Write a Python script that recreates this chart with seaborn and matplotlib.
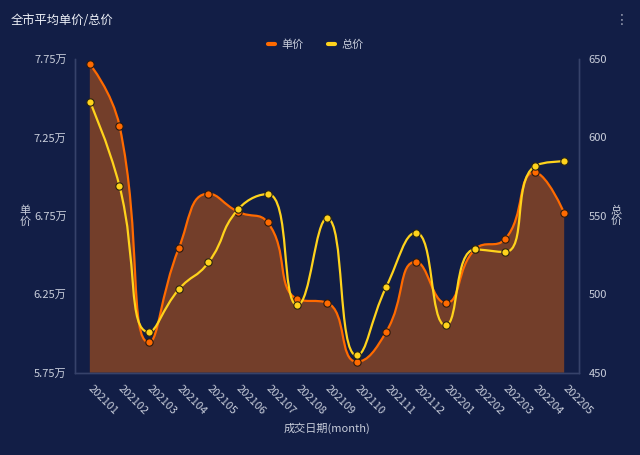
import numpy as np
import pandas as pd
import seaborn as sns
import matplotlib
matplotlib.use("Agg")
import matplotlib.pyplot as plt
from matplotlib.path import Path
from matplotlib.patches import PathPatch
from matplotlib.lines import Line2D
from matplotlib.ticker import FuncFormatter

months = ["202101", "202102", "202103", "202104", "202105", "202106", "202107", "202108", "202109",
          "202110", "202111", "202112", "202201", "202202", "202203", "202204", "202205"]
unit_price = [77180, 73250, 59430, 65430, 68910, 67760, 67080, 62190, 61960,
              58200, 60110, 64570, 61940, 65380, 66000, 70270, 67680]
total_price = [622.8, 569.0, 475.9, 503.1, 520.3, 554.1, 563.9, 493.1, 548.4,
               461.0, 504.8, 539.2, 480.2, 528.6, 526.9, 581.6, 584.8]
left_ticks = [57500, 62500, 67500, 72500, 77500]
right_ticks = [450, 500, 550, 600, 650]

BG = "#121E46"
FILL = "#733E2A"
ORANGE = "#FF6A00"
YELLOW = "#FFD31C"
AXIS = "#36426A"
TXT = "#C9CEDB"

sns.set_theme(style="dark")
plt.rcParams["font.family"] = ["Noto Sans CJK SC", "DejaVu Sans"]
plt.rcParams["axes.unicode_minus"] = False

fig = plt.figure(figsize=(6.4, 4.55), dpi=100, facecolor=BG)
ax = fig.add_axes([75 / 640, 1 - 372.7 / 455, 504 / 640, (372.7 - 59) / 455])
ax.set_facecolor(BG)
ax2 = ax.twinx()
ax2.patch.set_visible(False)

x = np.arange(len(months))
ax.set_xlim(-0.5, len(months) - 0.5)
ax.set_ylim(left_ticks[0], left_ticks[-1])
ax2.set_ylim(right_ticks[0], right_ticks[-1])


def smooth_path(axis, xs, ys, smooth=0.5):
    tr = axis.transData
    pts = tr.transform(np.column_stack([xs, ys]))
    n = len(pts)
    verts = [tuple(pts[0])]
    codes = [Path.MOVETO]
    cp0 = pts[0].copy()
    for i in range(1, n):
        px, py = pts[i - 1]
        xx, yy = pts[i]
        if i == n - 1:
            cp1 = np.array([xx, yy])
            nxt = None
        else:
            nx_, ny_ = pts[i + 1]
            vx, vy = nx_ - px, ny_ - py
            lp = np.hypot(xx - px, yy - py)
            ln = np.hypot(nx_ - xx, ny_ - yy)
            r = ln / (ln + lp)
            ncx = xx + vx * smooth * r
            ncy = yy + vy * smooth * r
            ncx = min(ncx, max(nx_, xx)); ncx = max(ncx, min(nx_, xx))
            ncy = min(ncy, max(ny_, yy)); ncy = max(ncy, min(ny_, yy))
            vx, vy = ncx - xx, ncy - yy
            c1x = xx - vx * lp / ln
            c1y = yy - vy * lp / ln
            c1x = min(c1x, max(px, xx)); c1x = max(c1x, min(px, xx))
            c1y = min(c1y, max(py, yy)); c1y = max(c1y, min(py, yy))
            vx, vy = xx - c1x, yy - c1y
            ncx = xx + vx * ln / lp
            ncy = yy + vy * ln / lp
            cp1 = np.array([c1x, c1y])
            nxt = np.array([ncx, ncy])
        verts += [tuple(cp0), tuple(cp1), (xx, yy)]
        codes += [Path.CURVE4] * 3
        if nxt is not None:
            cp0 = nxt
    inv = tr.inverted()
    dverts = inv.transform(np.array(verts))
    return dverts, codes


# area under unit price
v1, c1 = smooth_path(ax, x, unit_price)
fv = np.vstack([v1, [[x[-1], left_ticks[0]], [x[0], left_ticks[0]], v1[0]]])
fc = list(c1) + [Path.LINETO, Path.LINETO, Path.CLOSEPOLY]
ax.add_patch(PathPatch(Path(fv, fc), facecolor=FILL, edgecolor="none", zorder=1))
ax.add_patch(PathPatch(Path(v1, c1), facecolor="none", edgecolor=ORANGE, lw=1.6, zorder=2))

v2, c2 = smooth_path(ax2, x, total_price)
ax2.add_patch(PathPatch(Path(v2, c2), facecolor="none", edgecolor=YELLOW, lw=1.6, zorder=2))

df = pd.DataFrame({"x": x, "unit": unit_price, "total": total_price})
sns.scatterplot(data=df, x="x", y="unit", ax=ax, color=ORANGE, s=28,
                edgecolor="#2a1a10", linewidth=0.8, zorder=3, legend=False)
sns.scatterplot(data=df, x="x", y="total", ax=ax2, color=YELLOW, s=28,
                edgecolor="#2a2410", linewidth=0.8, zorder=3, legend=False)

ax.set_xlim(-0.5, len(months) - 0.5)
ax.set_ylim(left_ticks[0], left_ticks[-1])
ax2.set_ylim(right_ticks[0], right_ticks[-1])

ax.set_xticks(x)
ax.set_xticklabels(months, rotation=-45, ha="left", va="center", rotation_mode="anchor",
                   color=TXT, fontsize=8)
ax.set_yticks(left_ticks)
ax.yaxis.set_major_formatter(FuncFormatter(lambda v, p: f"{v / 10000:.2f}万"))
ax2.set_yticks(right_ticks)
ax2.set_yticklabels([str(t) for t in right_ticks])
ax.tick_params(axis="x", length=0, pad=10)
ax.tick_params(axis="y", length=0, pad=6, labelcolor=TXT, labelsize=8)
ax2.tick_params(axis="y", length=0, pad=7, labelcolor=TXT, labelsize=8)
ax.set_xlabel("")
ax.set_ylabel("")
ax2.set_ylabel("")
ax.grid(False)
ax2.grid(False)

for a in (ax, ax2):
    a.spines["top"].set_visible(False)
    for s in ("left", "right", "bottom"):
        a.spines[s].set_visible(True)
        a.spines[s].set_color(AXIS)
        a.spines[s].set_linewidth(1.0)

fig.text(11 / 640, 1 - 21 / 455, "全市平均单价/总价", color="#EEF1F8", fontsize=8.8,
         ha="left", va="center")
fig.text(622 / 640, 1 - 20 / 455, "⋮", color="#9AA0B4", fontsize=10, ha="center", va="center",
         family=["DejaVu Sans"])
fig.text(25 / 640, 1 - 216 / 455, "单\n价", color=TXT, fontsize=8, ha="center", va="center",
         linespacing=1.0)
fig.text(616 / 640, 1 - 216 / 455, "总\n价", color=TXT, fontsize=8, ha="center", va="center",
         linespacing=1.0)
fig.text(327 / 640, 1 - 428 / 455, "成交日期(month)", color=TXT, fontsize=8, ha="center", va="center")

handles = [Line2D([], [], color=ORANGE, lw=3), Line2D([], [], color=YELLOW, lw=3)]
fig.legend(handles, ["单价", "总价"], loc="center", bbox_to_anchor=(316 / 640, 1 - 45 / 455),
           ncol=2, frameon=False, handlelength=0.6, handletextpad=0.6, columnspacing=2.2,
           labelcolor=TXT, prop={"size": 8})

fig.savefig("out.png", dpi=100, facecolor=BG)
